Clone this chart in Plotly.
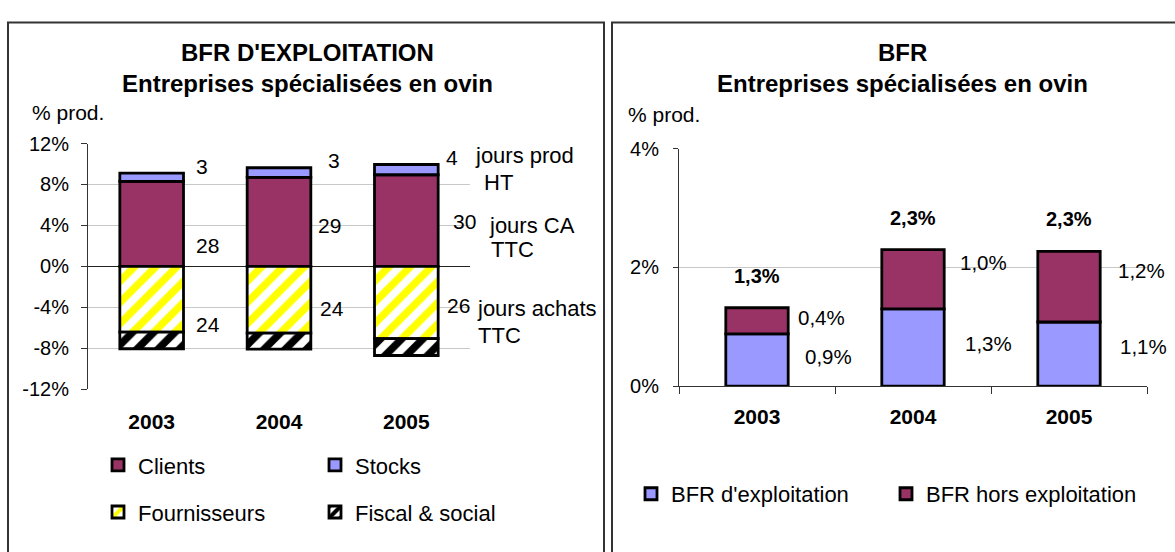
import plotly.graph_objects as go

W, H = 1175, 552
FONT = "Liberation Sans, Arial, sans-serif"

# ---------------- data ----------------
years = ["2003", "2004", "2005"]

# Left chart: BFR d'exploitation (% of production)
clients = [8.30, 8.70, 8.95]
stocks = [0.80, 0.93, 1.00]
fournisseurs = [-6.42, -6.51, -7.05]
fiscal_social = [-1.62, -1.57, -1.65]

# day counts shown as labels
days_stocks = ["3", "3", "4"]
days_clients = ["28", "29", "30"]
days_fournisseurs = ["24", "24", "26"]

left_tickvals = [-12, -8, -4, 0, 4, 8, 12]
left_ticktext = ["-12%", "-8%", "-4%", "0%", "4%", "8%", "12%"]

# Right chart: BFR (% of production)
bfr_exploitation = [0.88, 1.30, 1.08]
bfr_hors_exploitation = [0.44, 1.00, 1.19]
bfr_total_text = ["1,3%", "2,3%", "2,3%"]
bfr_expl_text = ["0,9%", "1,3%", "1,1%"]
bfr_hors_text = ["0,4%", "1,0%", "1,2%"]

right_tickvals = [0, 2, 4]
right_ticktext = ["0%", "2%", "4%"]

# ---------------- label placement (style) ----------------
clients_label_y = [2.0, 4.0, 4.35]
fourn_label_y = [-5.67, -4.14, -3.77]
stocks_label_dx = [42, 47, 38]
clients_label_dx = [42, 37, 45]
fourn_label_dx = [42, 39, 39]

hors_label_y = [1.16, 2.08, 1.95]
expl_label_y = [0.50, 0.71, 0.67]
hors_label_dx = [39, 45, 47]
expl_label_dx = [46, 50, 49]

PLUM = "#993366"
LAV = "#9999FF"
YEL = "#FFFF00"
OUT = dict(color="#000000", width=2.8)


def px(x):
    return x / W


def py(y):
    return 1 - y / H


fig = go.Figure()

# Left chart bars
fig.add_trace(go.Bar(x=years, y=clients, name="Clients", marker=dict(color=PLUM, line=OUT),
                     width=0.5, xaxis="x", yaxis="y", legend="legend"))
fig.add_trace(go.Bar(x=years, y=stocks, name="Stocks", marker=dict(color=LAV, line=OUT),
                     width=0.5, xaxis="x", yaxis="y", legend="legend"))
fig.add_trace(go.Bar(x=years, y=fournisseurs, name="Fournisseurs",
                     marker=dict(color="white", line=OUT,
                                 pattern=dict(shape="/", fgcolor=YEL, bgcolor="white",
                                              fgopacity=1, size=15, solidity=0.5)),
                     width=0.5, xaxis="x", yaxis="y", legend="legend2"))
fig.add_trace(go.Bar(x=years, y=fiscal_social, name="Fiscal & social",
                     marker=dict(color="white", line=OUT,
                                 pattern=dict(shape="/", fgcolor="black", bgcolor="white",
                                              fgopacity=1, size=15, solidity=0.5)),
                     width=0.5, xaxis="x", yaxis="y", legend="legend2"))

# Right chart bars
fig.add_trace(go.Bar(x=years, y=bfr_exploitation, name="BFR d'exploitation",
                     marker=dict(color=LAV, line=OUT), width=0.4,
                     xaxis="x2", yaxis="y2", legend="legend3"))
fig.add_trace(go.Bar(x=years, y=bfr_hors_exploitation, name="BFR hors exploitation",
                     marker=dict(color=PLUM, line=OUT), width=0.4,
                     xaxis="x2", yaxis="y2", legend="legend3"))

annotations = []


def txt(x, y, text, size, bold=False, xanchor="center", xref="paper", yref="paper",
        xshift=0, yshift=0):
    if bold:
        text = "<b>" + text + "</b>"
    annotations.append(dict(x=x, y=y, xref=xref, yref=yref, text=text, showarrow=False,
                            xanchor=xanchor, yanchor="middle", xshift=xshift, yshift=yshift,
                            font=dict(family=FONT, size=size, color="black")))


# Titles
txt(px(307), py(43), "BFR D'EXPLOITATION", 24, bold=True)
txt(px(307), py(76), "Entreprises spécialisées en ovin", 24, bold=True)
txt(px(30), py(106), "% prod.", 21, xanchor="left")
txt(px(902), py(43), "BFR", 24, bold=True)
txt(px(902), py(75), "Entreprises spécialisées en ovin", 24, bold=True)
txt(px(626), py(108), "% prod.", 21, xanchor="left")

# Side notes left chart
txt(px(473), py(150), "jours prod", 22, xanchor="left")
txt(px(482), py(179), "HT", 22, xanchor="left")
txt(px(487), py(223), "jours CA", 22, xanchor="left")
txt(px(489), py(248), "TTC", 22, xanchor="left")
txt(px(475), py(310), "jours achats", 22, xanchor="left")
txt(px(476), py(338), "TTC", 22, xanchor="left")

# Day labels (x given as category index)
for i in range(len(years)):
    top = clients[i] + stocks[i]
    txt(i, top, days_stocks[i], 21, xanchor="left", xref="x", yref="y",
        xshift=stocks_label_dx[i], yshift=7)
    txt(i, clients_label_y[i], days_clients[i], 21, xanchor="left", xref="x", yref="y",
        xshift=clients_label_dx[i])
    txt(i, fourn_label_y[i], days_fournisseurs[i], 21, xanchor="left", xref="x", yref="y",
        xshift=fourn_label_dx[i])

# Right chart labels
for i in range(len(years)):
    total = bfr_exploitation[i] + bfr_hors_exploitation[i]
    txt(i, total, bfr_total_text[i], 20, bold=True, xref="x2", yref="y2", yshift=32)
    txt(i, hors_label_y[i], bfr_hors_text[i], 20.5, xanchor="left", xref="x2", yref="y2",
        xshift=hors_label_dx[i])
    txt(i, expl_label_y[i], bfr_expl_text[i], 20.5, xanchor="left", xref="x2", yref="y2",
        xshift=expl_label_dx[i])

shapes = [
    dict(type="rect", xref="paper", yref="paper", x0=px(8), x1=px(604), y0=py(575), y1=py(12),
         line=dict(color="#333333", width=2), fillcolor="rgba(0,0,0,0)", layer="above"),
    dict(type="rect", xref="paper", yref="paper", x0=px(612), x1=px(1190), y0=py(575), y1=py(12),
         line=dict(color="#333333", width=2), fillcolor="rgba(0,0,0,0)", layer="above"),
]

legend_common = dict(orientation="h", xanchor="left", yanchor="middle",
                     bgcolor="rgba(0,0,0,0)", font=dict(family=FONT, size=22, color="black"),
                     itemclick=False, itemdoubleclick=False, traceorder="normal",
                     entrywidthmode="pixels")

fig.update_layout(
    width=W, height=H, autosize=False,
    margin=dict(l=0, r=0, t=0, b=0),
    paper_bgcolor="white", plot_bgcolor="white",
    barmode="relative",
    font=dict(family=FONT, size=20, color="black"),
    showlegend=True,
    legend=dict(legend_common, x=px(98), y=py(473), entrywidth=172),
    legend2=dict(legend_common, x=px(98), y=py(522), entrywidth=172),
    legend3=dict(legend_common, x=px(631), y=py(503), entrywidth=210),
    xaxis=dict(domain=[px(88), px(470)], anchor="y", type="category", range=[-0.5, 2.5],
               showgrid=False, showline=False, zeroline=False, ticks="",
               tickfont=dict(family=FONT, size=21, color="black", weight="bold"),
               ticklabelstandoff=18),
    yaxis=dict(domain=[py(394), py(138)], anchor="x", range=[-12, 12],
               tickvals=left_tickvals, ticktext=left_ticktext,
               showgrid=True, gridcolor="#c8c8c8", gridwidth=1,
               zeroline=True, zerolinecolor="#222222", zerolinewidth=1,
               showline=True, linecolor="#333333", linewidth=1,
               ticks="outside", ticklen=6, tickcolor="#333333",
               tickfont=dict(family=FONT, size=20, color="black"),
               ticklabelstandoff=8),
    xaxis2=dict(domain=[px(679), px(1147)], anchor="y2", type="category", range=[-0.5, 2.5],
                showgrid=False, showline=True, linecolor="#333333", linewidth=1,
                ticks="outside", tickson="boundaries", ticklen=7, tickcolor="#333333",
                tickfont=dict(family=FONT, size=21, color="black", weight="bold"),
                ticklabelstandoff=12),
    yaxis2=dict(domain=[py(390.7), py(143.3)], anchor="x2", range=[0, 4],
                tickvals=right_tickvals, ticktext=right_ticktext,
                showgrid=True, gridcolor="#c8c8c8", gridwidth=1, zeroline=False,
                showline=True, linecolor="#333333", linewidth=1,
                ticks="outside", ticklen=5, tickcolor="#333333",
                tickfont=dict(family=FONT, size=20, color="black"),
                ticklabelstandoff=10),
    annotations=annotations,
    shapes=shapes,
)

fig.write_html("out.html", config={"displayModeBar": False},
               post_script="document.body.style.margin='0';document.body.style.overflow='hidden';")
